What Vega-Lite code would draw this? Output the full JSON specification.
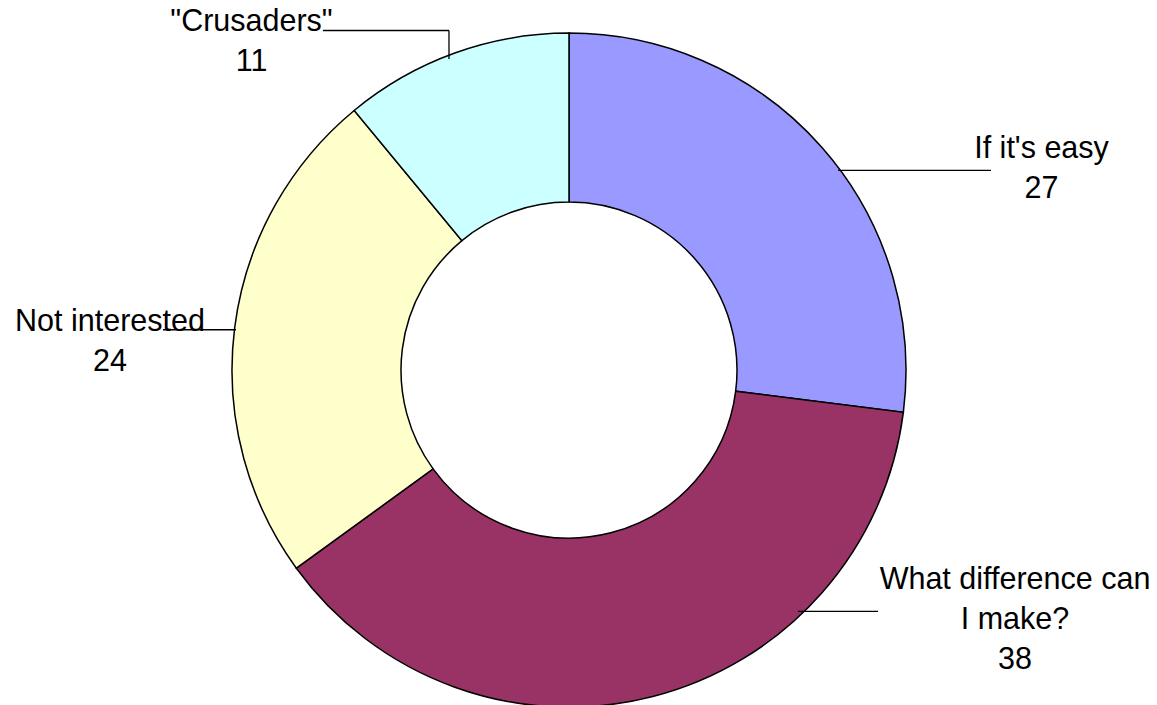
{
  "$schema": "https://vega.github.io/schema/vega-lite/v6.json",
  "width": 1157,
  "height": 705,
  "autosize": {"type": "fit", "contains": "padding"},
  "padding": 0,
  "background": "white",
  "config": {"view": {"stroke": null}},
  "datasets": {
    "slices": [
      {"category": "If it's easy", "value": 27, "rank": 1},
      {"category": "What difference can I make?", "value": 38, "rank": 2},
      {"category": "Not interested", "value": 24, "rank": 3},
      {"category": "\"Crusaders\"", "value": 11, "rank": 4}
    ],
    "labels": [
      {"text": "\"Crusaders\"\n11", "x": -0.9421, "y": 1.0208},
      {"text": "If it's easy\n27", "x": 1.4021, "y": 0.638},
      {"text": "Not interested\n24", "x": -1.362, "y": 0.1187},
      {"text": "What difference can\nI make?\n38", "x": 1.3234, "y": -0.6588}
    ],
    "leaders": [
      {"x": -0.73, "y": 1.0237, "x2": -0.3561, "y2": 1.0237},
      {"x": -0.3561, "y": 1.0237, "x2": -0.3561, "y2": 0.9377},
      {"x": 0.7982, "y": 0.6024, "x2": 1.2522, "y2": 0.6024},
      {"x": -1.2047, "y": 0.1217, "x2": -0.9881, "y2": 0.1217},
      {"x": 0.6795, "y": -0.727, "x2": 0.9169, "y2": -0.727}
    ]
  },
  "layer": [
    {
      "data": {"name": "slices"},
      "mark": {"type": "arc", "outerRadius": 337, "innerRadius": 168, "stroke": "black", "strokeWidth": 1.5},
      "encoding": {
        "theta": {"field": "value", "type": "quantitative", "stack": true},
        "order": {"field": "rank", "type": "quantitative"},
        "color": {
          "field": "category",
          "type": "nominal",
          "scale": {
            "domain": ["If it's easy", "What difference can I make?", "Not interested", "\"Crusaders\""],
            "range": ["#9999FF", "#993366", "#FFFFCC", "#CCFFFF"]
          },
          "legend": null
        },
        "x": {"datum": 0, "type": "quantitative", "scale": {"domain": [-1.6884, 1.7448], "nice": false, "zero": false}, "axis": null},
        "y": {"datum": 0, "type": "quantitative", "scale": {"domain": [-0.9763, 1.1157], "nice": false, "zero": false}, "axis": null}
      }
    },
    {
      "data": {"name": "leaders"},
      "mark": {"type": "rule", "color": "black", "strokeWidth": 1.3},
      "encoding": {
        "x": {"field": "x", "type": "quantitative"},
        "y": {"field": "y", "type": "quantitative"},
        "x2": {"field": "x2"},
        "y2": {"field": "y2"}
      }
    },
    {
      "data": {"name": "labels"},
      "mark": {"type": "text", "font": "Liberation Sans", "fontSize": 30.5, "lineBreak": "\n", "lineHeight": 40, "align": "center", "baseline": "alphabetic", "color": "black"},
      "encoding": {
        "x": {"field": "x", "type": "quantitative"},
        "y": {"field": "y", "type": "quantitative"},
        "text": {"field": "text", "type": "nominal"}
      }
    }
  ]
}
